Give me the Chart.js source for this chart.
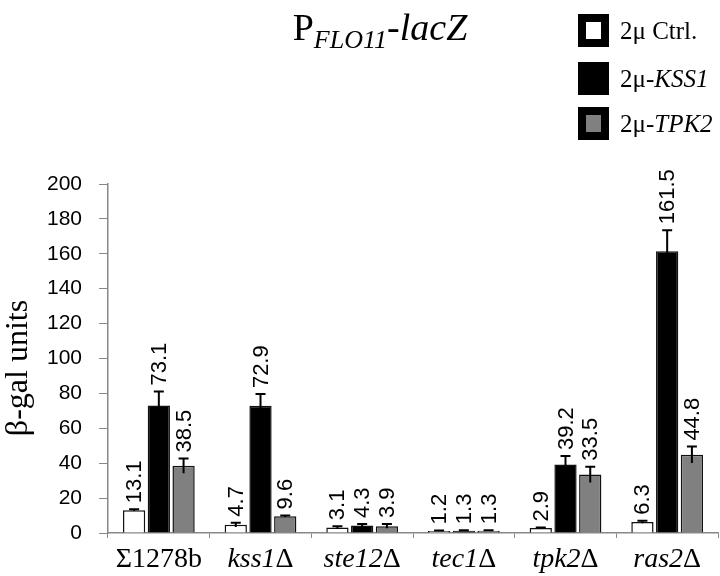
<!DOCTYPE html>
<html>
<head>
<meta charset="utf-8">
<script src="https://cdn.jsdelivr.net/npm/chart.js@4.4.1/dist/chart.umd.min.js"></script>
<style>
  body { margin: 0; background: #fff; }
</style>
</head>
<body>
<canvas id="grafico" width="720" height="576"></canvas>
<script>
// dados
const strains = ['Σ1278b', 'kss1Δ', 'ste12Δ', 'tec1Δ', 'tpk2Δ', 'ras2Δ'];
const ctrlVals = [13.1, 4.7, 3.1, 1.2, 2.9, 6.3];
const kss1Vals = [73.1, 72.9, 4.3, 1.3, 39.2, 161.5];
const tpk2Vals = [38.5, 9.6, 3.9, 1.3, 33.5, 44.8];
const ctrlErr = [0.5, 1.2, 0.8, 0.3, 0.2, 0.7];
const kss1Err = [8.0, 6.7, 0.8, 0.3, 4.9, 12.0];
const tpk2Err = [4.2, 0.5, 1.2, 0.3, 4.5, 4.7];
const yTicks = [0, 20, 40, 60, 80, 100, 120, 140, 160, 180, 200];

const serif = '"Liberation Serif", "Times New Roman", serif';
const sans = '"Liberation Sans", Arial, sans-serif';

/* =========================
   BARRAS DE ERRO + RÓTULOS
========================== */
const errorBars = {
    id: 'errorBars',
    afterDatasetsDraw(chart) {
        const ctx = chart.ctx;
        const y = chart.scales.y;
        chart.data.datasets.forEach((ds, i) => {
            chart.getDatasetMeta(i).data.forEach((bar, j) => {
                const v = ds.data[j];
                const e = ds.err[j];
                const top = y.getPixelForValue(v + e);
                const bot = y.getPixelForValue(Math.max(0, v - e));
                ctx.save();
                ctx.strokeStyle = '#000';
                ctx.lineWidth = 2;
                ctx.beginPath();
                ctx.moveTo(bar.x, bot);
                ctx.lineTo(bar.x, top);
                ctx.moveTo(bar.x - 5, top);
                ctx.lineTo(bar.x + 5, top);
                ctx.stroke();

                ctx.translate(bar.x + 1, top - 6);
                ctx.rotate(-Math.PI / 2);
                ctx.fillStyle = '#000';
                ctx.font = '22px ' + sans;
                ctx.textAlign = 'left';
                ctx.textBaseline = 'middle';
                ctx.fillText(v.toFixed(1), 0, 0);
                ctx.restore();
            });
        });
    }
};

/* =========================
   TÍTULO, LEGENDA, EIXOS
========================== */
const extras = {
    id: 'extras',
    afterDraw(chart) {
        const ctx = chart.ctx;
        ctx.save();
        ctx.fillStyle = '#000';
        ctx.textBaseline = 'alphabetic';
        ctx.textAlign = 'left';

        // título P_FLO11-lacZ
        const big = '38px ' + serif;
        const sub = 'italic 26px ' + serif;
        const bigIt = 'italic 38px ' + serif;
        ctx.font = big;
        const wP = ctx.measureText('P').width;
        ctx.font = sub;
        const wSub = ctx.measureText('FLO11').width;
        ctx.font = bigIt;
        const wLac = ctx.measureText('-lacZ').width;
        let x = 380 - (wP + wSub + wLac) / 2;
        const base = 40;
        ctx.font = big;
        ctx.fillText('P', x, base);
        x += wP;
        ctx.font = sub;
        ctx.fillText('FLO11', x, base + 8);
        x += wSub;
        ctx.font = bigIt;
        ctx.fillText('-lacZ', x, base);

        // legenda
        const items = [
            { fill: '#ffffff', y: 14, parts: [['2μ Ctrl.', false]] },
            { fill: '#000000', y: 62, parts: [['2μ-', false], ['KSS1', true]] },
            { fill: '#808080', y: 107, parts: [['2μ-', false], ['TPK2', true]] }
        ];
        items.forEach(it => {
            ctx.fillStyle = '#000';
            ctx.fillRect(578, it.y, 31, 33);
            ctx.fillStyle = it.fill;
            ctx.fillRect(586, it.y + 8, 15, 17);
            ctx.fillStyle = '#000';
            let tx = 620;
            it.parts.forEach(([t, it2]) => {
                ctx.font = (it2 ? 'italic ' : '') + '25px ' + serif;
                ctx.fillText(t, tx, it.y + 25);
                tx += ctx.measureText(t).width;
            });
        });

        // rótulos do eixo x (nome em itálico, Δ reto)
        const xs = chart.scales.x;
        strains.forEach((s, i) => {
            const hasDelta = s.endsWith('Δ');
            const name = hasDelta ? s.slice(0, -1) : s;
            const fName = (i === 0 ? '' : 'italic ') + '28px ' + serif;
            const fDelta = '28px ' + serif;
            ctx.font = fName;
            const wn = ctx.measureText(name).width;
            ctx.font = fDelta;
            const wd = hasDelta ? ctx.measureText('Δ').width : 0;
            let lx = xs.getPixelForValue(i) - (wn + wd) / 2;
            ctx.font = fName;
            ctx.fillText(name, lx, 567);
            if (hasDelta) {
                ctx.font = fDelta;
                ctx.fillText('Δ', lx + wn, 567);
            }
        });

        // título do eixo y
        ctx.translate(19, 368);
        ctx.rotate(-Math.PI / 2);
        ctx.font = '32px ' + serif;
        ctx.textAlign = 'center';
        ctx.textBaseline = 'middle';
        ctx.fillText('β-gal units', 0, 0);
        ctx.restore();
    }
};

new Chart(document.getElementById('grafico'), {
    type: 'bar',
    data: {
        labels: strains,
        datasets: [
            { label: '2μ Ctrl.', data: ctrlVals, err: ctrlErr, backgroundColor: '#ffffff', borderColor: '#111', borderWidth: 1.5 },
            { label: '2μ-KSS1', data: kss1Vals, err: kss1Err, backgroundColor: '#000000', borderColor: '#111', borderWidth: 1.5 },
            { label: '2μ-TPK2', data: tpk2Vals, err: tpk2Err, backgroundColor: '#808080', borderColor: '#111', borderWidth: 1.5 }
        ]
    },
    options: {
        responsive: false,
        animation: false,
        layout: { padding: { top: 184, right: 2, left: 0, bottom: 0 } },
        categoryPercentage: 0.73,
        barPercentage: 0.9,
        plugins: {
            legend: { display: false },
            tooltip: { enabled: false }
        },
        scales: {
            x: {
                afterFit(scale) { scale.height = 43; },
                grid: { drawOnChartArea: false, tickLength: 5, color: '#888' },
                border: { color: '#888', width: 1.5 },
                ticks: { display: false }
            },
            y: {
                min: 0,
                max: 200,
                afterFit(scale) { scale.width = 108; },
                afterBuildTicks(scale) { scale.ticks = yTicks.map(v => ({ value: v })); },
                grid: { drawOnChartArea: false, tickLength: 9, color: '#888' },
                border: { color: '#888', width: 1.5 },
                ticks: {
                    color: '#000',
                    padding: 17,
                    font: { family: sans, size: 21 }
                }
            }
        }
    },
    plugins: [errorBars, extras]
});
</script>
</body>
</html>
